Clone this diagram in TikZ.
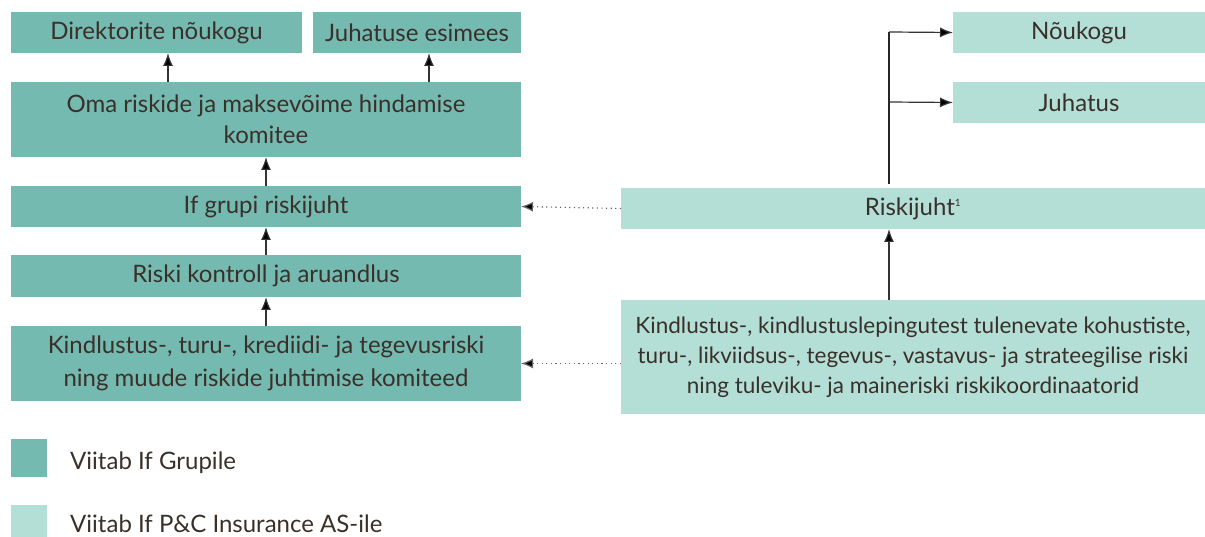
\documentclass[tikz,border=0pt]{standalone}
\usepackage{fontspec}
\setmainfont{Lato}
\usetikzlibrary{arrows.meta}
\definecolor{dark}{HTML}{74BAB1}
\definecolor{light}{HTML}{B3DFD6}
\definecolor{txt}{HTML}{3A302A}
\tikzset{
  box/.style={inner sep=0pt, outer sep=0pt, text=txt, font=\fontsize{24}{32}\selectfont, align=center},
  darkbox/.style={box, fill=dark},
  lightbox/.style={box, fill=light},
  arr/.style={line width=1.2pt, draw=black!80, -{Latex[length=13pt,width=10pt,fill=black]}},
  dotarr/.style={line width=1.2pt, draw=black!60, dash pattern=on 1.2pt off 3.4pt, -{Latex[length=12pt,width=10pt,fill=black]}},
  legtext/.style={text=txt, font=\fontsize{24}{28}\selectfont, anchor=west, inner sep=0pt}
}
\begin{document}
\begin{tikzpicture}[x=1pt,y=-1pt]
\useasboundingbox (0,0) rectangle (1205,537);
% left column
\node[darkbox, minimum width=291pt, minimum height=41pt, anchor=north west] (dn) at (11,12) {Direktorite nõukogu};
\node[darkbox, minimum width=208pt, minimum height=41pt, anchor=north west] (je) at (313,12) {Juhatuse esimees};
\node[darkbox, minimum width=510pt, minimum height=75pt, anchor=north west, font=\fontsize{24}{31}\selectfont] (oma) at (11,82) {Oma riskide ja maksevõime hindamise\\komitee};
\node[darkbox, minimum width=510pt, minimum height=41pt, anchor=north west] (igr) at (11,186) {If grupi riskijuht};
\node[darkbox, minimum width=510pt, minimum height=42pt, anchor=north west] (rk) at (11,255) {Riski kontroll ja aruandlus};
\node[darkbox, minimum width=510pt, minimum height=75pt, anchor=north west, font=\fontsize{24}{33}\selectfont] (kk) at (11,326) {Kindlustus-, turu-, krediidi- ja tegevusriski\\ning muude riskide juhtimise komiteed};
% right column
\node[lightbox, minimum width=252pt, minimum height=41pt, anchor=north west] (nk) at (953,12) {Nõukogu};
\node[lightbox, minimum width=252pt, minimum height=41pt, anchor=north west] (ju) at (953,82) {Juhatus};
\node[lightbox, minimum width=584pt, minimum height=41pt, anchor=north west] (rj) at (621,188) {Riskijuht\textsuperscript{\fontsize{10}{10}\selectfont 1}};
\node[lightbox, minimum width=584pt, minimum height=114pt, anchor=north west, font=\fontsize{22.5}{30}\selectfont] (kr) at (621,300) {Kindlustus-, kindlustuslepingutest tulenevate kohustiste,\\turu-, likviidsus-, tegevus-, vastavus- ja strateegilise riski\\ning tuleviku- ja maineriski riskikoordinaatorid};
% vertical arrows left
\draw[arr] (oma.north west -| 168,0) -- (dn.south west -| 168,0);
\draw[arr] (oma.north west -| 429,0) -- (je.south west -| 429,0);
\draw[arr] (igr.north west -| 266,0) -- (oma.south west -| 266,0);
\draw[arr] (rk.north west -| 266,0) -- (igr.south west -| 266,0);
\draw[arr] (kk.north west -| 266,0) -- (rk.south west -| 266,0);
% right connectors
\coordinate (top) at (889,32);
\coordinate (mid) at (889,102);
\draw[line width=1.2pt, draw=black!85] (889,184) -- (top);
\draw[arr] (top) -- (nk.west);
\draw[arr] (mid) -- (ju.west);
\draw[arr] (kr.north west -| 889,0) -- (rj.south west -| 889,0);
% dotted
\draw[dotarr] (rj.west) -- (igr.east);
\draw[dotarr] (kr.west |- kk.east) -- (kk.east);
% legend
\node[fill=dark, minimum width=36pt, minimum height=38pt, inner sep=0pt, anchor=north west] (l1) at (11,439) {};
\node[legtext] (t1) at (70,463) {Viitab If Grupile};
\node[fill=light, minimum width=36pt, minimum height=34pt, inner sep=0pt, anchor=north west] (l2) at (11,505) {};
\node[legtext] (t2) at (70,524) {Viitab If P\&C Insurance AS-ile};
\end{tikzpicture}
\end{document}
